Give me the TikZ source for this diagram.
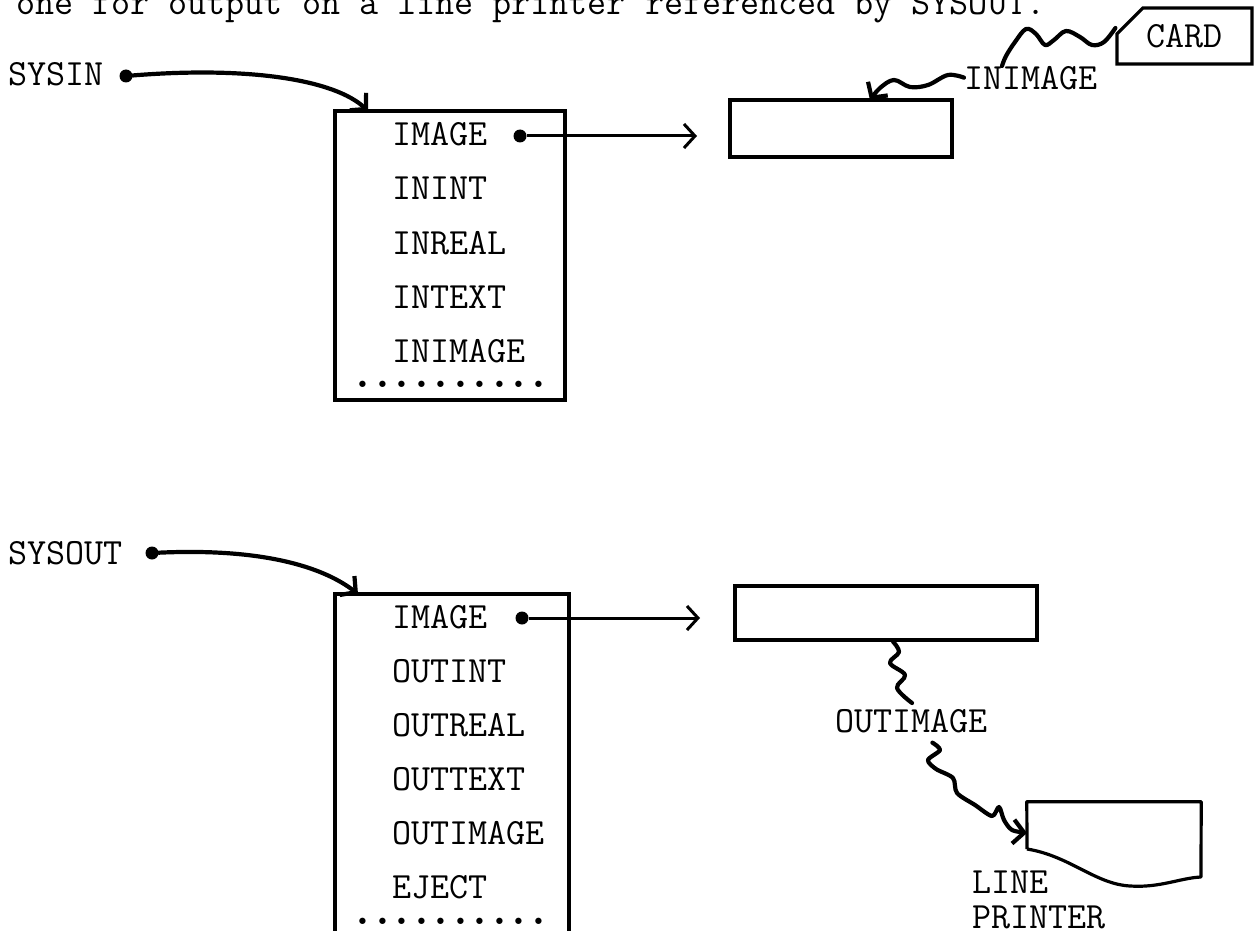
\documentclass[tikz,border=0pt]{standalone}
\usetikzlibrary{arrows.meta,shapes.misc}
\newcommand{\typedot}{\makebox[19.5pt]{\fontsize{56}{56}\selectfont.}}
\begin{document}
\begin{tikzpicture}[
    x=1pt, y=-1pt,
    every node/.style={font=\ttfamily\fontsize{37}{44}\selectfont},
    entry/.style={anchor=base west, inner sep=0pt},
    objbox/.style={draw, line width=3.2pt, inner sep=0pt},
    pin dot/.style={circle, fill, inner sep=0pt, minimum size=13pt},
    hand line/.style={draw, line width=4.2pt, line cap=round, line join=round},
    hand arrow/.style={hand line, -{Straight Barb[length=11pt, width=24pt]}},
    ref arrow/.style={draw, line width=3pt, -{Straight Barb[length=11pt, width=24pt]}},
    ]
\useasboundingbox (0,0) rectangle (1256,931);
\clip (0,0) rectangle (1256,931);
\node[entry] (intro) at (16,15) {one for output on a line printer referenced by SYSOUT.};
% SYSIN
\node[entry] (sysin) at (8,86) {SYSIN};
\node[pin dot] (sysindot) at (126,76) {};
\node[objbox, minimum width=230pt, minimum height=289pt] (inobj) at (450,255.5) {};
\coordinate (inobjin) at (368,111);
\draw[hand arrow] (sysindot) .. controls (250,66) and (335,80) .. (inobjin);
\node[entry] (inimg) at (392,146) {IMAGE};
\node[entry] (inint) at (392,200) {ININT};
\node[entry] (inreal) at (392,254) {INREAL};
\node[entry] (intext) at (392,308) {INTEXT};
\node[entry] (ininimage) at (392,362) {INIMAGE};
\node[entry] (inmore) at (353,387) {\typedot\typedot\typedot\typedot\typedot\typedot\typedot\typedot\typedot\typedot};
\node[pin dot] (inimgdot) at (520,136) {};
\node[objbox, minimum width=222pt, minimum height=57pt] (inbuf) at (841,128.5) {};
\coordinate (inbufin) at (697,136);
\draw[ref arrow] (inimgdot) -- (inbufin);
\node[entry] (inimage) at (964,90) {INIMAGE};
\node[draw, line width=3.2pt, chamfered rectangle, chamfered rectangle corners=north west,
      chamfered rectangle xsep=14pt, chamfered rectangle ysep=14pt,
      minimum width=135pt, minimum height=56pt, inner sep=0pt] (card) at (1184.5,36) {CARD};
\draw[hand line] plot[smooth, tension=0.6] coordinates {([yshift=8pt]card.west) (1104,42) (1092,45) (1080,37) (1066,31) (1054,40) (1045,45) (1036,34) (1026,29) (1015,42) (1006,56) (1002,66)};
\draw[hand arrow] plot[smooth, tension=0.6] coordinates {([yshift=1pt]inimage.west) (948,75) (928,85) (910,87) (894,80) (880,88) (870,100)};
% SYSOUT
\node[entry] (sysout) at (8,564) {SYSOUT};
\node[pin dot] (sysoutdot) at (152,553) {};
\node[objbox, minimum width=234pt, minimum height=366pt] (outobj) at (452,777) {};
\coordinate (outobjin) at (358,594);
\draw[hand arrow] (sysoutdot) .. controls (260,548) and (322,566) .. (outobjin);
\node[entry] (outimg) at (392,628) {IMAGE};
\node[entry] (outint) at (392,682) {OUTINT};
\node[entry] (outreal) at (392,736) {OUTREAL};
\node[entry] (outtext) at (392,790) {OUTTEXT};
\node[entry] (outoutimage) at (392,844) {OUTIMAGE};
\node[entry] (eject) at (392,898) {EJECT};
\node[entry] (outmore) at (353,924) {\typedot\typedot\typedot\typedot\typedot\typedot\typedot\typedot\typedot\typedot};
\node[pin dot] (outimgdot) at (522,618) {};
\node[objbox, minimum width=302pt, minimum height=54pt] (outbuf) at (886,613) {};
\coordinate (outbufin) at (700,618);
\draw[ref arrow] (outimgdot) -- (outbufin);
\node[entry] (outimage) at (835,732) {OUTIMAGE};
\draw[hand line] plot[smooth, tension=0.6] coordinates {([xshift=7pt]outbuf.south) (899,652) (890,663) (905,675) (897,688) (912,703)};
\node[minimum width=174pt, minimum height=75pt, inner sep=0pt] (printer) at (1114,839.5) {};
\draw[line width=3.2pt, line join=round] (1027,849) -- (printer.north west) -- (printer.north east) -- (1201,877)
    .. controls (1180,878) and (1160,888) .. (1130,886) .. controls (1095,884) and (1070,856) .. (1027,849);
\draw[hand arrow] plot[smooth, tension=0.5] coordinates {([xshift=21pt, yshift=-10pt]outimage.south) (940,750) (928,760) (936,769) (953,778) (957,793) (975,805) (992,816) (999,807) (1004,820) (1012,830) (1027,833)};
\node[entry] (linelabel) at (972,893) {LINE};
\node[entry] (printerlabel) at (972,928) {PRINTER};
\end{tikzpicture}
\end{document}
